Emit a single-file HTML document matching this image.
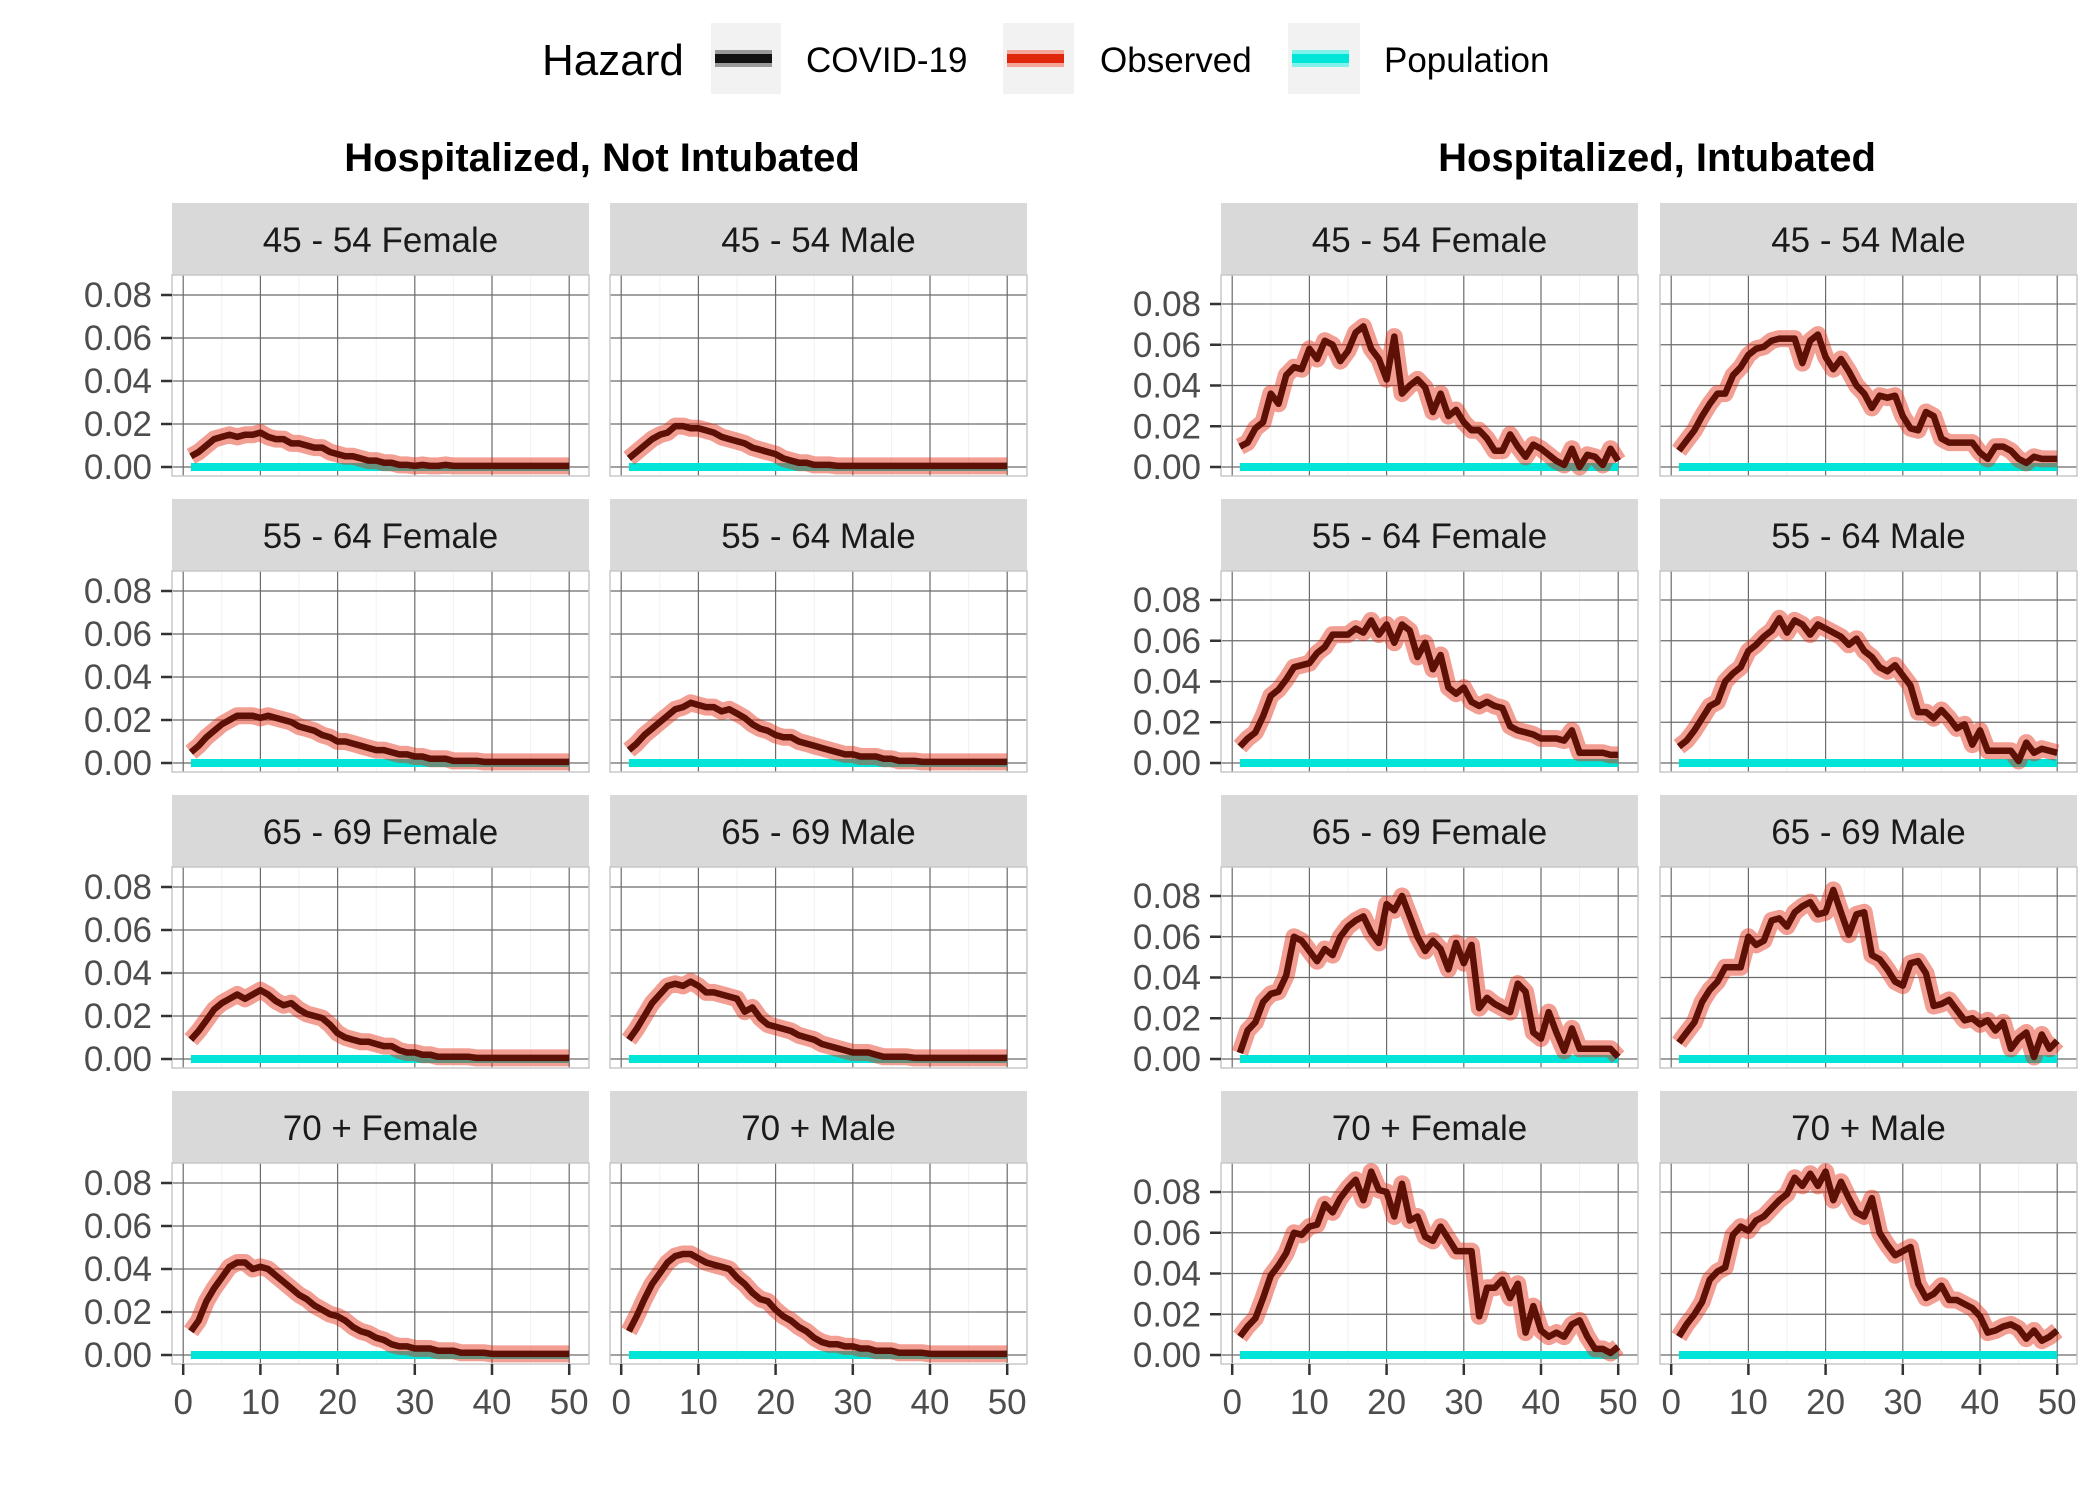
<!DOCTYPE html>
<html><head><meta charset="utf-8"><style>
html,body{margin:0;padding:0;background:#fff;}
svg{display:block;font-family:"Liberation Sans",sans-serif;}
</style></head><body>
<svg id="chart" width="2100" height="1500" viewBox="0 0 2100 1500" xmlns="http://www.w3.org/2000/svg">
<g>
  <text x="542" y="75" font-size="44" fill="#000">Hazard</text>
  <g>
    <rect x="711" y="23" width="70" height="71" fill="#f2f2f2"/>
    <rect x="715" y="50" width="57" height="17" fill="#999"/>
    <rect x="715" y="54" width="57" height="9" fill="#111"/>
    <text x="806" y="72" font-size="35" fill="#000">COVID-19</text>
  </g>
  <g>
    <rect x="1003" y="23" width="71" height="71" fill="#f2f2f2"/>
    <rect x="1007" y="50" width="57" height="17" fill="#f4a598"/>
    <rect x="1007" y="54" width="57" height="9" fill="#e0260a"/>
    <text x="1100" y="72" font-size="35" fill="#000">Observed</text>
  </g>
  <g>
    <rect x="1288" y="23" width="72" height="71" fill="#f2f2f2"/>
    <rect x="1292" y="50" width="57" height="17" fill="#7ff2ea"/>
    <rect x="1292" y="54" width="57" height="9" fill="#00e5d8"/>
    <text x="1384" y="72" font-size="35" fill="#000">Population</text>
  </g>
</g>
<text x="602" y="171" font-size="40" font-weight="bold" text-anchor="middle" fill="#000">Hospitalized, Not Intubated</text>
<text x="1657" y="171" font-size="40" font-weight="bold" text-anchor="middle" fill="#000">Hospitalized, Intubated</text>
<g id="panels"></g>
</svg>
<script>
// values in hundredths (x0.01 hazard), days 1..50
const days = [1,2,3,4,5,6,7,8,9,10,11,12,13,14,15,16,17,18,19,20,21,22,23,24,25,26,27,28,29,30,31,32,33,34,35,36,37,38,39,40,41,42,43,44,45,46,47,48,49,50];
const xTicks = [0,10,20,30,40,50];
const yTicks = [0,0.02,0.04,0.06,0.08];
const yTickLabels = ["0.00","0.02","0.04","0.06","0.08"];
const stripLabels = ["45 - 54 Female","45 - 54 Male","55 - 64 Female","55 - 64 Male","65 - 69 Female","65 - 69 Male","70 + Female","70 + Male"];
const populationValues = [0,0,0,0,0,0,0,0,0,0,0,0,0,0,0,0,0,0,0,0,0,0,0,0,0,0,0,0,0,0,0,0,0,0,0,0,0,0,0,0,0,0,0,0,0,0,0,0,0,0];

const notIntub45F = [0.5,0.7,1.0,1.3,1.4,1.5,1.4,1.5,1.5,1.6,1.4,1.3,1.3,1.1,1.1,1.0,0.9,0.9,0.7,0.6,0.5,0.5,0.4,0.3,0.3,0.2,0.2,0.1,0.1,0.05,0.1,0.05,0.05,0.1,0.05,0.05,0.05,0.05,0.05,0.05,0.05,0.05,0.05,0.05,0.05,0.05,0.05,0.05,0.05,0.05];
const notIntub45M = [0.4,0.7,1.0,1.3,1.5,1.6,1.9,1.9,1.8,1.8,1.7,1.6,1.4,1.3,1.2,1.1,0.9,0.8,0.7,0.6,0.4,0.3,0.2,0.2,0.1,0.1,0.1,0.05,0.05,0.05,0.05,0.05,0.05,0.05,0.05,0.05,0.05,0.05,0.05,0.05,0.05,0.05,0.05,0.05,0.05,0.05,0.05,0.05,0.05,0.05];
const notIntub55F = [0.5,0.8,1.2,1.5,1.8,2.0,2.2,2.2,2.2,2.1,2.2,2.1,2.0,1.9,1.7,1.6,1.5,1.3,1.2,1.0,1.0,0.9,0.8,0.7,0.6,0.6,0.5,0.4,0.4,0.3,0.3,0.2,0.2,0.2,0.1,0.1,0.1,0.1,0.05,0.05,0.05,0.05,0.05,0.05,0.05,0.05,0.05,0.05,0.05,0.05];
const notIntub55M = [0.6,0.9,1.3,1.6,1.9,2.2,2.5,2.6,2.8,2.7,2.6,2.6,2.4,2.5,2.3,2.1,1.8,1.6,1.5,1.3,1.2,1.2,1.0,0.9,0.8,0.7,0.6,0.5,0.4,0.4,0.3,0.3,0.3,0.2,0.2,0.1,0.1,0.1,0.05,0.05,0.05,0.05,0.05,0.05,0.05,0.05,0.05,0.05,0.05,0.05];
const notIntub65F = [0.9,1.3,1.8,2.3,2.6,2.8,3.0,2.8,3.0,3.2,3.0,2.7,2.5,2.6,2.3,2.1,2.0,1.9,1.6,1.2,1.0,0.9,0.8,0.8,0.7,0.6,0.6,0.4,0.3,0.3,0.2,0.2,0.1,0.1,0.1,0.1,0.1,0.05,0.05,0.05,0.05,0.05,0.05,0.05,0.05,0.05,0.05,0.05,0.05,0.05];
const notIntub65M = [0.9,1.4,2.0,2.6,3.0,3.4,3.5,3.4,3.6,3.4,3.1,3.1,3.0,2.9,2.8,2.2,2.4,1.9,1.6,1.5,1.4,1.3,1.1,1.0,0.9,0.7,0.6,0.5,0.4,0.3,0.3,0.3,0.2,0.1,0.1,0.1,0.1,0.05,0.05,0.05,0.05,0.05,0.05,0.05,0.05,0.05,0.05,0.05,0.05,0.05];
const notIntub70F = [1.1,1.6,2.5,3.1,3.6,4.1,4.3,4.3,4.0,4.1,4.0,3.7,3.4,3.1,2.8,2.6,2.3,2.1,1.9,1.8,1.6,1.3,1.1,1.0,0.8,0.7,0.5,0.4,0.4,0.3,0.3,0.3,0.2,0.2,0.2,0.1,0.1,0.1,0.1,0.05,0.05,0.05,0.05,0.05,0.05,0.05,0.05,0.05,0.05,0.05];
const notIntub70M = [1.1,1.8,2.6,3.3,3.8,4.3,4.6,4.7,4.7,4.5,4.3,4.2,4.1,4.0,3.6,3.3,2.9,2.6,2.5,2.1,1.8,1.6,1.3,1.1,0.8,0.6,0.5,0.5,0.4,0.4,0.3,0.3,0.2,0.2,0.2,0.1,0.1,0.1,0.1,0.05,0.05,0.05,0.05,0.05,0.05,0.05,0.05,0.05,0.05,0.05];

const intub45F = [1.0,1.2,1.9,2.2,3.6,3.1,4.5,4.9,4.8,5.8,5.3,6.2,6.0,5.2,5.7,6.6,6.9,5.8,5.3,4.3,6.4,3.6,4.0,4.3,3.9,2.7,3.6,2.5,2.8,2.2,1.8,1.8,1.4,0.8,0.8,1.6,1.0,0.5,1.1,0.9,0.6,0.3,0.1,0.9,0.0,0.6,0.5,0.1,0.9,0.3];
const intub45M = [0.8,1.3,1.8,2.5,3.1,3.6,3.6,4.5,4.9,5.5,5.8,5.9,6.2,6.3,6.3,6.3,5.1,6.2,6.5,5.4,4.8,5.3,4.7,4.0,3.6,2.9,3.5,3.4,3.5,2.5,1.9,1.8,2.7,2.5,1.4,1.2,1.2,1.2,1.2,0.7,0.4,1.0,1.0,0.8,0.4,0.2,0.5,0.4,0.4,0.4];
const intub55F = [0.8,1.2,1.5,2.3,3.3,3.6,4.1,4.7,4.8,4.9,5.4,5.7,6.3,6.3,6.3,6.6,6.4,7.0,6.3,6.8,5.9,6.8,6.5,5.2,5.9,4.6,5.3,3.7,3.4,3.7,3.0,2.8,3.0,2.8,2.7,1.8,1.6,1.5,1.4,1.2,1.2,1.2,1.1,1.6,0.5,0.5,0.5,0.5,0.4,0.4];
const intub55M = [0.8,1.1,1.6,2.2,2.8,3.0,4.0,4.4,4.7,5.5,5.8,6.2,6.5,7.1,6.4,7.0,6.8,6.3,6.8,6.6,6.4,6.2,5.8,6.1,5.5,5.2,4.7,4.5,4.8,4.3,3.8,2.5,2.5,2.2,2.6,2.2,1.7,1.9,0.9,1.6,0.6,0.6,0.6,0.6,0.1,1.0,0.5,0.7,0.6,0.5];
const intub65F = [0.3,1.4,1.8,2.8,3.2,3.3,4.1,6.0,5.8,5.3,4.8,5.4,5.1,6.0,6.5,6.8,7.0,6.2,5.7,7.6,7.3,8.0,7.0,6.0,5.3,5.8,5.4,4.4,5.7,4.7,5.6,2.5,3.0,2.7,2.5,2.3,3.7,3.3,1.3,1.0,2.3,1.3,0.4,1.5,0.5,0.5,0.5,0.5,0.5,0.1];
const intub65M = [0.8,1.3,1.8,2.8,3.4,3.8,4.5,4.5,4.5,6.0,5.6,5.8,6.8,6.9,6.5,7.2,7.5,7.7,7.1,7.2,8.3,7.2,6.1,7.1,7.2,5.1,4.9,4.4,3.8,3.6,4.7,4.8,4.2,2.6,2.7,2.9,2.4,1.9,2.0,1.7,1.9,1.4,1.8,0.5,1.0,1.3,0.1,1.2,0.5,0.9];
const intub70F = [0.9,1.4,1.8,2.8,3.9,4.4,5.0,6.0,5.9,6.3,6.4,7.4,7.0,7.7,8.2,8.6,7.6,9.0,8.1,8.0,6.8,8.4,6.6,6.8,5.8,5.6,6.3,5.7,5.1,5.1,5.1,1.9,3.3,3.3,3.7,2.8,3.5,1.1,2.4,1.2,0.9,1.1,0.9,1.5,1.7,0.9,0.3,0.3,0.1,0.4];
const intub70M = [0.9,1.5,2.0,2.6,3.7,4.1,4.3,5.9,6.3,6.1,6.6,6.8,7.2,7.6,7.9,8.7,8.3,8.9,8.3,9.0,7.6,8.5,7.7,7.0,6.8,7.7,6.0,5.4,4.9,5.1,5.3,3.5,2.8,3.0,3.4,2.7,2.7,2.5,2.3,1.9,1.1,1.2,1.4,1.5,1.3,0.8,1.2,0.7,0.9,1.2];

const NS = "http://www.w3.org/2000/svg";
const root = document.getElementById("panels");
function mk(tag, attrs, parent){
  const e = document.createElementNS(NS, tag);
  for (const k in attrs) e.setAttribute(k, attrs[k]);
  (parent||root).appendChild(e);
  return e;
}
const panelW = 417, panelH = 201, stripH = 72;
const colX = [172, 610, 1221, 1660];
const rowTop = [203, 499, 795, 1091];
const leftSeries = [[notIntub45F,notIntub45M],[notIntub55F,notIntub55M],[notIntub65F,notIntub65M],[notIntub70F,notIntub70M]];
const rightSeries = [[intub45F,intub45M],[intub55F,intub55M],[intub65F,intub65M],[intub70F,intub70M]];

function xScale(px0, d){ return px0 + 11.2 + d * 7.72; }
function yScale(top, isRight, v){
  return isRight ? top + 29 + (0.08 - v) * 2037.5 : top + 20 + (0.08 - v) * 2150;
}

for (let r = 0; r < 4; r++){
  for (let c = 0; c < 4; c++){
    const isRight = c >= 2;
    const px = colX[c];
    const st = rowTop[r];
    const top = st + stripH;
    const g = mk("g", {});
    
    
    const strip = mk("rect", {x:px, y:st, width:panelW, height:stripH, fill:"#d9d9d9"}, g);
    
    
    const stxt = mk("text", {x:px+panelW/2, y:st+49, "font-size":35, "text-anchor":"middle", fill:"#1a1a1a"}, g);
    stxt.textContent = stripLabels[r*2 + (c%2)];
    
    
    mk("rect", {x:px, y:top, width:panelW, height:panelH, fill:"#fff"}, g);
    for (let i = 0; i < xTicks.length-1; i++){
      const xm = xScale(px, (xTicks[i]+xTicks[i+1])/2);
      mk("line", {x1:xm, x2:xm, y1:top, y2:top+panelH, stroke:"#f2f2f2", "stroke-width":1}, g);
    }
    for (const t of xTicks){
      const xx = xScale(px, t);
      const gl = mk("line", {x1:xx, x2:xx, y1:top, y2:top+panelH, stroke:"#6b6b6b", "stroke-width":1.2}, g);
      
      
    }
    for (const t of yTicks){
      const yy = yScale(top, isRight, t);
      const gl = mk("line", {x1:px, x2:px+panelW, y1:yy, y2:yy, stroke:"#6b6b6b", "stroke-width":1.2}, g);
      
      
    }
    mk("rect", {x:px, y:top, width:panelW, height:panelH, fill:"none", stroke:"#c8c8c8", "stroke-width":1.5}, g);
    const obs = isRight ? rightSeries[r][c%2] : leftSeries[r][c];
    function pts(arr){ return days.map((d,i)=> xScale(px,d).toFixed(1)+","+yScale(top,isRight,arr[i]/100).toFixed(1)).join(" "); }
    const pop = mk("polyline", {points:pts(populationValues), fill:"none", stroke:"#00e5d8", "stroke-width":8}, g);
    
    
    const ob = mk("polyline", {points:pts(obs), fill:"none", stroke:"rgba(228,40,15,0.45)", "stroke-width":17, "stroke-linejoin":"round"}, g);
    
    
    const cv = mk("polyline", {points:pts(obs), fill:"none", stroke:"#5c1006", "stroke-width":6.5, "stroke-linejoin":"round"}, g);
    
    
    if (c === 0 || c === 2){
      yTicks.forEach((t,i)=>{
        const yy = yScale(top, isRight, t);
        mk("line", {x1:px-11, x2:px, y1:yy, y2:yy, stroke:"#333", "stroke-width":2.5}, g);
        const tl = mk("text", {x:px-20, y:yy+12, "font-size":35, "text-anchor":"end", fill:"#4d4d4d"}, g);
        tl.textContent = yTickLabels[i];
        
        
      });
    }
    if (r === 3){
      xTicks.forEach(t=>{
        const xx = xScale(px, t);
        mk("line", {x1:xx, x2:xx, y1:top+panelH, y2:top+panelH+11, stroke:"#333", "stroke-width":2.5}, g);
        const tl = mk("text", {x:xx, y:top+panelH+50, "font-size":35, "text-anchor":"middle", fill:"#4d4d4d"}, g);
        tl.textContent = String(t);
        
        
      });
    }
  }
}
</script>
</body></html>
